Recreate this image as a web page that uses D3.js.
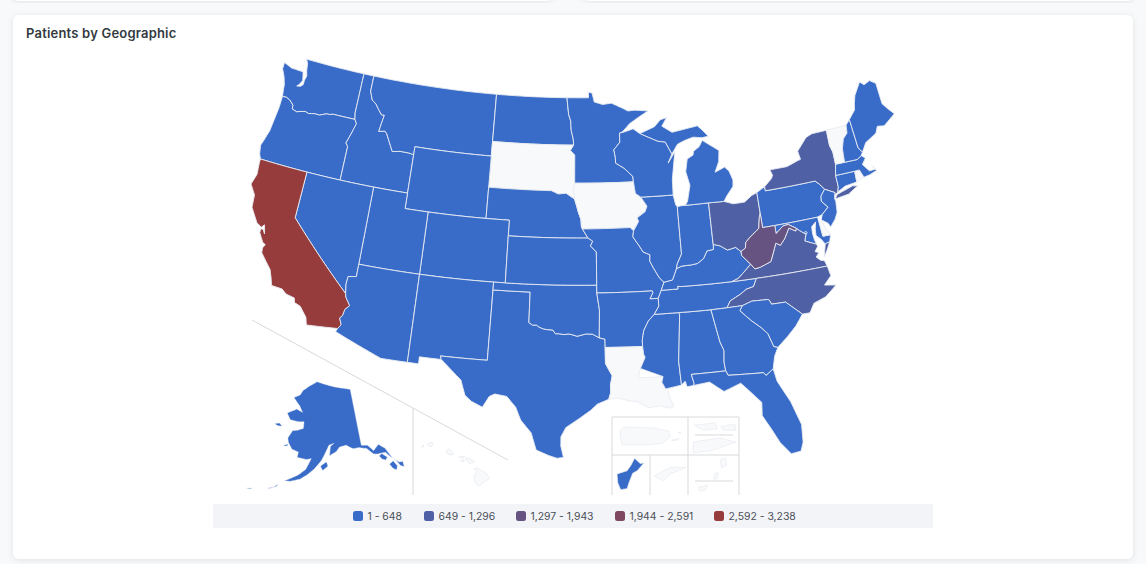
<!DOCTYPE html>
<html>
<head>
<meta charset="utf-8">
<title>Patients by Geographic</title>
<script src="https://cdn.jsdelivr.net/npm/d3@7"></script>
<style>
  html, body { margin: 0; padding: 0; background: #f8f9fb; }
  svg { display: block; }
  text { font-family: Inter, "Noto Sans", sans-serif; }
</style>
</head>
<body>
<svg id="chart" width="1146" height="564"></svg>
<script>
'use strict';

// legend bins
var binLabels = ['1 - 648', '649 - 1,296', '1,297 - 1,943', '1,944 - 2,591', '2,592 - 3,238'];
var binLimits = [649, 1297, 1944, 2592];
var binColors = ['#396cc8', '#4f60a5', '#665382', '#7f4760', '#963c3c'];
var noDataColor = '#f8f9fb';

// patient counts, read from the bin colour of each state (null = no data)
var stateNames = ['WA', 'OR', 'ID', 'MT', 'ND', 'SD', 'WY', 'NE', 'CO', 'UT', 'NV', 'CA', 'AZ', 'NM', 'TX', 'OK', 'KS', 'MN',
  'IA', 'MO', 'AR', 'LA', 'MS', 'AL', 'TN', 'KY', 'IL', 'IN', 'OH', 'MI', 'WI', 'PA', 'NY', 'NJ', 'CT', 'RI', 'MA', 'VT',
  'NH', 'ME', 'MD', 'DC', 'DE', 'VA', 'WV', 'NC', 'SC', 'GA', 'FL', 'AK', 'HI', 'PR', 'VI', 'GU', 'AS', 'MP'];
var stateValues = [420, 180, 90, 60, 40, null, 30, 110, 240, 130, 150, 3238, 380, 100, 620, 160, 120, 210,
  null, 280, 90, null, 70, 130, 300, 240, 350, 290, 1120, 410, 190, 600, 1250, 330, 120, null, 260, null,
  50, 45, 220, 30, null, 980, 1520, 1060, 210, 470, 640, 12, null, null, null, 3, null, null];

// shared borders, lon/lat
var idMt = [[-116.05, 49], [-116.05, 48], [-115.72, 47.45], [-115.3, 47.25], [-114.95, 46.93], [-114.6, 46.64], [-114.33, 46.65], [-114.45, 46.1], [-114.55, 45.56], [-114.0, 45.65], [-113.8, 45.52], [-113.45, 45.05], [-113.0, 44.45], [-112.3, 44.55], [-111.5, 44.54], [-111.05, 44.48]];
var snake = [[-117.04, 46.42], [-116.92, 46], [-116.7, 45.75], [-116.95, 45.1], [-117.25, 44.4], [-117.03, 44.2], [-117.03, 42]];
var columbia = [[-116.92, 46], [-118.98, 46], [-119.3, 45.93], [-119.6, 45.92], [-120.2, 45.73], [-120.65, 45.74], [-121.2, 45.65], [-121.55, 45.72], [-122, 45.63], [-122.3, 45.55], [-122.76, 45.65], [-122.8, 45.9], [-123.2, 46.15], [-123.55, 46.26], [-123.95, 46.25]];
var redNorth = [[-97.23, 49], [-97.15, 48.5], [-97.05, 47.9], [-96.85, 47.5], [-96.8, 46.9], [-96.6, 46.33], [-96.56, 45.94]];
var mnSd = [[-96.56, 45.94], [-96.85, 45.6], [-96.45, 45.3], [-96.45, 43.5]];
var sdIa = [[-96.45, 43.5], [-96.55, 43.1], [-96.45, 42.49]];
var moSdNe = [[-98.5, 43], [-97.9, 42.8], [-97.2, 42.85], [-96.7, 42.6], [-96.45, 42.49]];
var moNeIa = [[-96.45, 42.49], [-96.25, 42], [-96.1, 41.6], [-95.9, 41.2], [-95.85, 40.7], [-95.77, 40.58]];
var moNeMo = [[-95.77, 40.58], [-95.3, 40]];
var moKsMo = [[-95.3, 40], [-94.9, 39.8], [-95.1, 39.5], [-94.61, 39.11]];
var coAzNv = [[-114.05, 36.2], [-114.7, 36.1], [-114.75, 35.6], [-114.63, 35]];
var coAzCa = [[-114.63, 35], [-114.57, 34.8], [-114.14, 34.3], [-114.45, 34], [-114.53, 33.6], [-114.72, 33.4], [-114.5, 33], [-114.72, 32.72]];
var redSouth = [[-100, 34.56], [-99.7, 34.4], [-99.4, 34.42], [-99.2, 34.3], [-98.9, 34.2], [-98.6, 34.15], [-98.1, 34.13], [-97.9, 33.9], [-97.6, 33.9], [-97.2, 33.85], [-96.9, 33.9], [-96.6, 33.85], [-96.2, 33.75], [-95.5, 33.9], [-95, 33.88], [-94.48, 33.64]];
var txLa = [[-94.04, 33.02], [-94.04, 32], [-93.8, 31.6], [-93.55, 31.2], [-93.7, 30.6], [-93.7, 30.1], [-93.85, 29.7]];
var stCroix = [[-92.29, 46.66], [-92.29, 46.08], [-92.87, 45.6], [-92.75, 45.1], [-92.75, 44.75]];
var missMnWi = [[-92.75, 44.75], [-92, 44.4], [-91.25, 43.85], [-91.22, 43.5]];
var missIaWi = [[-91.22, 43.5], [-91.1, 42.75], [-90.64, 42.5]];
var missIaIl = [[-90.64, 42.5], [-90.15, 41.9], [-90.35, 41.55], [-91.05, 41.2], [-90.95, 40.95], [-91.42, 40.38]];
var missMoIl = [[-91.42, 40.38], [-91.5, 40], [-91, 39.4], [-90.7, 39], [-90.15, 38.8], [-90.2, 38.4], [-89.9, 37.9], [-89.5, 37.3], [-89.15, 37]];
var missMoKy = [[-89.15, 37], [-89.42, 36.5]];
var missMoTn = [[-89.42, 36.5], [-89.7, 36]];
var bootheel = [[-89.7, 36], [-90.37, 36], [-90.1, 36.4], [-90.15, 36.5]];
var missArTn = [[-89.7, 36], [-89.7, 35.5], [-90.1, 35]];
var missArMs = [[-90.1, 35], [-90.6, 34.6], [-91, 34], [-91.15, 33.4], [-91.15, 33]];
var missLaMs = [[-91.15, 33], [-91.1, 32.5], [-91, 32.3], [-91.4, 31.6], [-91.6, 31]];
var laMs = [[-91.6, 31], [-89.73, 31], [-89.85, 30.65], [-89.6, 30.2]];
var ohioIl = [[-89.15, 37], [-88.45, 37.1], [-88.05, 37.8]];
var ohioIn = [[-88.05, 37.8], [-87.6, 37.93], [-86.8, 37.95], [-86.3, 38], [-85.75, 38.27], [-85.4, 38.73], [-84.85, 38.78], [-84.82, 39.1]];
var ohioOh = [[-84.82, 39.1], [-84.25, 38.95], [-83.7, 38.63], [-83, 38.73], [-82.6, 38.42]];
var ohioWv = [[-82.6, 38.42], [-82.2, 38.6], [-82.1, 38.95], [-81.75, 39.2], [-81.4, 39.4], [-80.85, 39.7], [-80.65, 40.4], [-80.52, 40.64]];
var wabash = [[-88.05, 37.8], [-87.95, 38.1], [-87.53, 38.7], [-87.53, 39.35], [-87.53, 41.72]];
var tnKy = [[-89.42, 36.5], [-88.07, 36.5], [-88.07, 36.68], [-87.85, 36.64], [-83.68, 36.6]];
var kyVa = [[-83.68, 36.6], [-83.13, 36.75], [-82.3, 37.3], [-81.97, 37.54]];
var kyWv = [[-81.97, 37.54], [-82.6, 38.17], [-82.6, 38.42]];
var tnNc = [[-81.68, 36.59], [-82, 36.1], [-82.6, 36], [-83.1, 35.75], [-84, 35.4], [-84.32, 34.99]];
var vaWv = [[-81.97, 37.54], [-81.68, 37.2], [-81.23, 37.25], [-80.3, 37.5], [-80, 38], [-79.65, 38.6], [-79.3, 38.42], [-78.87, 38.77], [-78.35, 39.4], [-77.83, 39.13], [-77.75, 39.3]];
var mdWv = [[-77.75, 39.3], [-78.35, 39.63], [-78.8, 39.6], [-79.48, 39.2], [-79.48, 39.72]];
var mdVa = [[-77.75, 39.3], [-77.5, 39.1], [-77.05, 38.8], [-77.25, 38.4], [-77, 38.3], [-76.35, 38.05]];
var paNy = [[-75.35, 42], [-75.05, 41.75], [-74.7, 41.36]];
var paNj = [[-74.7, 41.36], [-75.13, 40.98], [-75.2, 40.65], [-74.75, 40.2], [-75.4, 39.8]];
var ncSc = [[-83.1, 35], [-82.3, 35.2], [-81.04, 35.15], [-80.93, 35.1], [-80.8, 34.82], [-79.68, 34.8], [-78.55, 33.86]];
var gaSc = [[-83.1, 35], [-83.35, 34.7], [-82.6, 34], [-81.9, 33.45], [-81.45, 33], [-81.15, 32.12], [-80.85, 32.03]];
var gaFl = [[-81.45, 30.72], [-82.05, 30.37], [-82.2, 30.57], [-84.86, 30.7], [-85, 31]];
var alGa = [[-85, 31], [-85.05, 31.55], [-84.95, 32.3], [-85.18, 32.87], [-85.6, 34.98]];
var alMs = [[-88.4, 30.37], [-88.47, 31.9], [-88.1, 34.9], [-88.2, 35]];
var vtNh = [[-71.5, 45.01], [-71.6, 44.5], [-72.05, 44.2], [-72.35, 43.6], [-72.46, 42.73]];
var nyVt = [[-73.35, 45], [-73.4, 44], [-73.25, 43.55], [-73.27, 42.75]];
var nyCt = [[-73.5, 42.05], [-73.5, 41.3], [-73.65, 41]];
var nhMe = [[-71.08, 45.3], [-70.98, 43.4], [-70.7, 43.07]];
var mnWiLake = [[-89.5, 48], [-90.5, 47.6], [-91.3, 47.25], [-92, 46.75], [-92.29, 46.66]];

function rev(a) { return a.slice().reverse(); }
function chain() { return [].concat.apply([], Array.prototype.slice.call(arguments)); }

var stateShapes = {
  WA: [chain([[-124.7, 48.38], [-123.9, 48.17], [-123.1, 48.15], [-122.75, 48.15], [-122.65, 47.9], [-122.55, 47.6], [-122.75, 47.3], [-122.95, 47.15], [-122.6, 47.2], [-122.4, 47.35], [-122.4, 47.65], [-122.3, 47.95], [-122.45, 48.3], [-122.55, 48.75], [-122.76, 49], [-117.03, 49]], snake.slice(0, 2), columbia.slice(1), [[-124.05, 46.7], [-124.1, 47], [-124.35, 47.5], [-124.7, 47.95]])],
  OR: [chain(columbia, [[-123.95, 45.5], [-124.05, 44.7], [-124.15, 43.9], [-124.4, 43.2], [-124.55, 42.84], [-124.4, 42.3], [-124.21, 42], [-117.03, 42]], rev(snake).slice(1, -2))],
  ID: [chain([[-117.03, 49]], idMt, [[-111.05, 42]], rev(snake))],
  MT: [chain(idMt.slice(0, 1), [[-104.05, 49], [-104.05, 45], [-111.05, 45]], rev(idMt).slice(0, -1))],
  ND: [chain([[-104.05, 49]], redNorth, [[-104.05, 45.94]])],
  SD: [chain([[-104.05, 45.94]], mnSd, sdIa.slice(1), rev(moSdNe).slice(1), [[-104.05, 43]])],
  WY: [[[-111.05, 45], [-104.05, 45], [-104.05, 41], [-111.05, 41]]],
  NE: [chain([[-104.05, 43]], moSdNe, moNeIa.slice(1), moNeMo.slice(1), [[-102.05, 40], [-102.05, 41], [-104.05, 41]])],
  CO: [[[-109.05, 41], [-102.05, 41], [-102.05, 37], [-109.05, 37]]],
  UT: [[[-114.05, 42], [-111.05, 42], [-111.05, 41], [-109.05, 41], [-109.05, 37], [-114.05, 37]]],
  NV: [chain([[-120, 42], [-114.05, 42], [-114.05, 37]], coAzNv, [[-120, 39]])],
  CA: [chain([[-124.21, 42], [-120, 42], [-120, 39]], coAzCa, [[-117.12, 32.53], [-117.28, 33], [-117.9, 33.6], [-118.4, 33.75], [-118.5, 34.03], [-119.2, 34.15], [-119.6, 34.4], [-120.47, 34.45], [-120.65, 34.9], [-120.9, 35.4], [-121.9, 36.3], [-121.95, 36.6], [-121.8, 36.85], [-122.05, 36.95], [-122.5, 37.5], [-122.5, 37.75], [-122.3, 37.75], [-122.1, 37.5], [-122.2, 37.8], [-122.3, 38.05], [-122.5, 37.85], [-122.95, 38.05], [-123.7, 38.9], [-123.8, 39.7], [-124.35, 40.3], [-124.1, 41], [-124.2, 41.75]])],
  AZ: [chain(rev(coAzCa), rev(coAzNv).slice(1), [[-114.05, 37], [-109.05, 37], [-109.05, 31.33], [-111.07, 31.33], [-114.82, 32.5]])],
  NM: [[[-109.05, 37], [-103, 37], [-103.04, 32], [-106.62, 32], [-106.53, 31.78], [-108.2, 31.78], [-108.2, 31.33], [-109.05, 31.33]]],
  TX: [chain([[-103, 36.5], [-100, 36.5]], redSouth, [[-94.04, 33.55]], txLa, [[-94.7, 29.4], [-95.2, 29], [-96, 28.5], [-97, 27.9], [-97.35, 27.3], [-97.35, 26.7], [-97.15, 25.96], [-97.6, 25.9], [-98.2, 26.07], [-99.1, 26.4], [-99.5, 27.5], [-100.3, 28.3], [-100.7, 29.1], [-101.4, 29.77], [-102.3, 29.88], [-102.7, 29.7], [-103.15, 28.98], [-104, 29.3], [-104.5, 29.65], [-104.9, 30.6], [-106, 31.4], [-106.53, 31.78], [-106.62, 32], [-103.04, 32]])],
  OK: [chain([[-103, 37], [-94.62, 37], [-94.62, 36.5], [-94.43, 35.4]], rev(redSouth), [[-100, 36.5], [-103, 36.5]])],
  KS: [chain([[-102.05, 40]], moKsMo, [[-94.62, 37], [-102.05, 37]])],
  MN: [chain(redNorth.slice(0, 1), [[-95.15, 49], [-95.15, 49.38], [-94.8, 49.3], [-94.6, 48.72], [-93.8, 48.55], [-92.95, 48.62], [-92, 48.3], [-91.4, 48.07], [-90.75, 48.1]], mnWiLake, stCroix.slice(1), missMnWi.slice(1), [[-96.45, 43.5]], rev(mnSd).slice(1), rev(redNorth).slice(1, -1))],
  IA: [chain([[-96.45, 43.5]], missIaWi, missIaIl.slice(1), [[-91.7, 40.6], [-95.77, 40.58]], rev(moNeIa).slice(1), rev(sdIa).slice(1, -1))],
  MO: [chain([[-95.77, 40.58], [-91.7, 40.6]], missMoIl, missMoKy.slice(1), missMoTn.slice(1), bootheel.slice(1), [[-94.62, 36.5], [-94.62, 37]], rev(moKsMo))],
  AR: [chain([[-94.62, 36.5]], rev(bootheel), missArTn.slice(1), missArMs.slice(1), [[-94.04, 33.02], [-94.04, 33.55], [-94.48, 33.64], [-94.43, 35.4]])],
  LA: [chain(missLaMs, laMs.slice(1), [[-89.4, 30.05], [-89.4, 29.8], [-89.1, 29.05], [-89.4, 28.95], [-90.1, 29.15], [-90.9, 29.05], [-91.8, 29.5], [-92.3, 29.55], [-93.2, 29.78]], rev(txLa))],
  MS: [chain(rev(missArMs), [[-88.2, 35]], rev(alMs).slice(1), rev(laMs).slice(0, -1), rev(missLaMs).slice(1, -1))],
  AL: [chain([[-88.2, 35]], rev(alGa), [[-87.6, 31], [-87.45, 30.4], [-87.5, 30.28], [-88, 30.23], [-88.1, 30.6]], alMs.slice(0, -1))],
  TN: [chain(tnKy, [[-81.68, 36.59]], tnNc.slice(1), [[-85.6, 34.98], [-88.2, 35], [-90.1, 35]], rev(missArTn).slice(1), rev(missMoTn).slice(1, -1))],
  KY: [chain(tnKy, kyVa.slice(1), kyWv.slice(1), rev(ohioOh).slice(1), rev(ohioIn).slice(1), rev(ohioIl).slice(1))],
  IL: [chain([[-87.8, 42.49], [-90.64, 42.5]], missIaIl.slice(1), missMoIl.slice(1), ohioIl.slice(1), wabash.slice(1), [[-87.65, 41.85]])],
  IN: [chain([[-87.53, 41.72], [-87.2, 41.76], [-86.82, 41.76], [-84.8, 41.76], [-84.82, 39.1]], rev(ohioIn).slice(1), wabash.slice(1, -1))],
  OH: [chain([[-84.8, 41.76], [-83.45, 41.73], [-82.7, 41.5], [-81.7, 41.5], [-81, 41.85], [-80.52, 41.98], [-80.52, 40.64]], rev(ohioWv).slice(1), rev(ohioOh).slice(1))],
  MI: [
    [[-86.82, 41.76], [-84.8, 41.76], [-83.45, 41.73], [-83.15, 42.05], [-82.5, 42.6], [-82.42, 43], [-82.65, 43.6], [-83, 43.9], [-83.9, 43.65], [-83.45, 44.3], [-83.3, 45], [-84.7, 45.78], [-85.05, 45.4], [-85.6, 45.15], [-85.7, 44.9], [-86.25, 44.7], [-86.5, 43.9], [-86.25, 43], [-86.6, 42]],
    [[-90.4, 46.57], [-89, 46.95], [-88.4, 47.37], [-87.8, 47.47], [-88.3, 46.95], [-87.4, 46.5], [-86, 46.65], [-85, 46.75], [-84.6, 46.45], [-84.1, 46], [-84.7, 45.95], [-85.5, 46.05], [-86.3, 45.9], [-87, 45.7], [-87.6, 45.1], [-88.1, 45.9], [-88.8, 46]]
  ],
  WI: [chain([[-92.29, 46.66], [-92, 46.7], [-91, 46.9], [-90.4, 46.57], [-88.8, 46], [-88.1, 45.9], [-87.6, 45.1], [-88, 44.55], [-87.3, 45.25], [-87.5, 44.5], [-87.75, 43.5], [-87.8, 42.49], [-90.64, 42.5]], rev(missIaWi).slice(1), rev(missMnWi).slice(1), rev(stCroix).slice(1, -1))],
  PA: [chain([[-80.52, 41.98], [-79.76, 42.27], [-79.76, 42]], paNy, paNj.slice(1), [[-75.79, 39.72], [-79.48, 39.72], [-80.52, 39.72], [-80.52, 40.64]])],
  NY: [
    chain([[-79.76, 42.27], [-79.05, 42.7], [-78.9, 42.9], [-79.05, 43.27], [-77.5, 43.27], [-76.5, 43.5], [-76.2, 43.55], [-76.3, 44.1], [-75.3, 44.85], [-74.7, 45]], nyVt, nyCt, [[-73.9, 40.85], [-73.9, 41]], rev(paNy), [[-79.76, 42]]),
    [[-74, 40.6], [-73.75, 40.85], [-72.3, 41.15], [-71.87, 41.07], [-72.8, 40.7]]
  ],
  NJ: [chain(paNj, [[-75.55, 39.5], [-75.05, 39.2], [-74.9, 38.93], [-74.4, 39.35], [-74.1, 39.75], [-74, 40.45], [-74.05, 40.65], [-73.9, 41]])],
  CT: [chain(nyCt, [[-72.9, 41.25], [-71.85, 41.32], [-71.8, 42.02]])],
  RI: [[[-71.8, 42.02], [-71.38, 42.02], [-71.15, 41.5], [-71.4, 41.45], [-71.85, 41.32]]],
  MA: [[[-73.27, 42.75], [-72.46, 42.73], [-71.3, 42.7], [-70.9, 42.88], [-70.6, 42.65], [-71, 42.3], [-70.55, 41.8], [-70, 41.8], [-70.2, 42.07], [-69.95, 41.7], [-70.6, 41.55], [-71.15, 41.5], [-71.38, 42.02], [-71.8, 42.02], [-73.5, 42.05]]],
  VT: [chain([[-73.35, 45]], vtNh, rev(nyVt).slice(0, -1))],
  NH: [chain(vtNh.slice(0, 1), nhMe, [[-70.9, 42.88], [-71.3, 42.7]], rev(vtNh).slice(0, -1))],
  ME: [chain(rev(nhMe), [[-70.4, 45.8], [-70.25, 46.2], [-70, 46.7], [-69.23, 47.46], [-68.9, 47.2], [-68.3, 47.36], [-67.8, 47.07], [-67.8, 45.7], [-67.45, 45.3], [-67, 44.85], [-68.2, 44.3], [-68.8, 44.4], [-69.1, 44], [-70.2, 43.6]])],
  MD: [chain([[-79.48, 39.72], [-75.79, 39.72], [-75.7, 38.46], [-75.05, 38.45], [-75.25, 38.03], [-75.65, 37.95], [-75.9, 38.3], [-76.25, 38.6], [-76.2, 39], [-76.05, 39.45], [-76.45, 39.2], [-76.5, 38.8], [-76.45, 38.35]], rev(mdVa), mdWv.slice(1, -1))],
  DC: [[[-77.12, 38.93], [-77.04, 39], [-76.91, 38.89], [-77.04, 38.79]]],
  DE: [[[-75.79, 39.72], [-75.4, 39.8], [-75.55, 39.5], [-75.4, 39.05], [-75.05, 38.45], [-75.7, 38.46]]],
  VA: [
    chain(kyVa, vaWv.slice(1), mdVa.slice(1), [[-76.3, 37.9], [-76.6, 37.6], [-76.3, 37.5], [-76.6, 37.25], [-76.3, 37], [-76, 36.92], [-75.87, 36.55], [-81.68, 36.59]]),
    [[-75.25, 38.03], [-75.65, 37.95], [-75.95, 37.15], [-75.6, 37.55]]
  ],
  WV: [chain([[-80.52, 40.64], [-80.52, 39.72]], rev(mdWv), rev(vaWv).slice(1), kyWv.slice(1), ohioWv.slice(1, -1))],
  NC: [chain(rev(tnNc), [[-75.87, 36.55], [-75.75, 35.9], [-76.4, 35.4], [-75.5, 35.25], [-76.5, 34.65], [-77.5, 34.4], [-77.95, 33.85]], rev(ncSc))],
  SC: [chain(ncSc, [[-79.2, 33.2], [-80, 32.6]], rev(gaSc).slice(0, -1))],
  GA: [chain([[-85.6, 34.98], [-84.32, 34.99]], gaSc, [[-81.2, 31.5]], gaFl, alGa.slice(1, -1))],
  FL: [chain([[-87.6, 31]], rev(gaFl), [[-81.3, 29.9], [-80.55, 28.45], [-80.05, 26.9], [-80.15, 25.75], [-80.4, 25.2], [-81.1, 25.13], [-81.75, 25.95], [-82.2, 26.85], [-82.75, 27.85], [-82.65, 28.7], [-83.4, 29.5], [-84, 30.1], [-85.3, 29.7], [-86.3, 30.4], [-87.5, 30.28], [-87.45, 30.4]])]
};

var alaskaShape = [
  [[-141, 69.65], [-141, 60.3], [-139, 60.1], [-137.5, 59], [-135.5, 59.8], [-133.8, 58.9], [-132.5, 57], [-131, 56], [-130, 55.9], [-130.1, 55], [-131, 55.4], [-131.8, 56.6], [-133, 57.3], [-134, 58.2], [-135.3, 58.3], [-136.5, 58.3], [-137.8, 58.5], [-139.5, 59.6], [-142, 60], [-144, 60], [-146, 60.7], [-148.3, 60.5], [-149.5, 59.8], [-151.7, 59.2], [-151.3, 60.7], [-150, 61.2], [-151.8, 60.9], [-153.2, 59.5], [-154.2, 58.5], [-156.5, 57], [-158.5, 56], [-160.5, 55.2], [-163, 54.7], [-164.8, 54.6], [-163, 55.2], [-161, 55.9], [-159, 56.9], [-157.5, 58.7], [-159, 58.5], [-162, 58.7], [-161.8, 59.6], [-164, 59.9], [-165.5, 60.9], [-166, 61.6], [-164.8, 62.9], [-163, 63.1], [-161, 63.5], [-161, 64.6], [-163, 64.5], [-166.3, 64.6], [-168, 65.6], [-164.5, 66.5], [-162, 66.1], [-163.5, 67.1], [-166.5, 68.3], [-164, 68.9], [-163, 69.7], [-160, 70.6], [-156.6, 71.35], [-152, 70.85], [-148, 70.4], [-144, 70]],
  [[-154.6, 57.5], [-153.9, 56.8], [-152.3, 57.5], [-152.7, 58.2], [-153.6, 57.9]],
  [[-171.7, 63.4], [-170, 63.7], [-168.8, 63.3], [-170.4, 63.2]],
  [[-167, 60.2], [-165.7, 60.3], [-165.5, 60.6], [-166.5, 60.4]],
  [[-134.8, 57.9], [-133.9, 57.4], [-134.6, 57], [-135.6, 57.3], [-136.2, 57.9], [-135.3, 58.2]],
  [[-133.9, 56.2], [-132.6, 56.5], [-131.9, 55.5], [-132.5, 54.9], [-133.4, 55.4]],
  [[-168.9, 52.9], [-167.4, 53.3], [-166.3, 53.9], [-166.7, 53.5], [-168.2, 53]],
  [[-174.5, 52], [-172.9, 52.3], [-173.5, 52.05]]
];
var hawaiiShape = [
  [[-159.8, 22.05], [-159.4, 22.23], [-159.3, 22.05], [-159.45, 21.88], [-159.7, 21.95]],
  [[-160.25, 21.8], [-160.1, 22.0], [-160.05, 21.9]],
  [[-158.27, 21.57], [-158, 21.7], [-157.7, 21.4], [-157.75, 21.27], [-158.1, 21.3]],
  [[-157.3, 21.1], [-156.75, 21.17], [-156.85, 21.05], [-157.25, 21.08]],
  [[-156.7, 21.02], [-156.6, 21.03], [-156.25, 20.93], [-156.0, 20.75], [-156.4, 20.6], [-156.5, 20.8], [-156.68, 20.87]],
  [[-157.05, 20.9], [-156.85, 20.9], [-156.85, 20.75], [-157.05, 20.75]],
  [[-156.05, 20.25], [-155.75, 20.25], [-155.1, 19.9], [-154.8, 19.5], [-155.65, 18.92], [-155.92, 19.1], [-156.05, 19.7], [-155.85, 20]]
];
var puertoRicoShape = [
  [[-67.25, 18.37], [-67.15, 18.5], [-66.6, 18.49], [-66.1, 18.47], [-65.65, 18.38], [-65.6, 18.2], [-65.85, 18.0], [-66.3, 17.95], [-66.8, 17.95], [-67.2, 17.95]],
  [[-65.55, 18.1], [-65.3, 18.15], [-65.4, 18.09], [-65.55, 18.08]],
  [[-65.35, 18.33], [-65.25, 18.35], [-65.27, 18.3]]
];
var virginNorthShape = [
  [[-65.03, 18.35], [-64.85, 18.37], [-64.83, 18.32], [-64.95, 18.31]],
  [[-64.8, 18.34], [-64.68, 18.36], [-64.67, 18.31], [-64.78, 18.31]]
];
var virginSouthShape = [[[-64.9, 17.68], [-64.9, 17.76], [-64.7, 17.79], [-64.57, 17.76], [-64.75, 17.7]]];
var guamShape = [[[144.853, 13.63], [144.923, 13.566], [144.97, 13.574], [144.886, 13.48], [144.83, 13.45], [144.783, 13.334], [144.76, 13.263], [144.68, 13.25], [144.643, 13.334], [144.634, 13.44], [144.76, 13.48], [144.807, 13.545]]];
var samoaShape = [
  [[-170.85, -14.33], [-170.76, -14.28], [-170.7, -14.25], [-170.55, -14.25], [-170.62, -14.28], [-170.7, -14.31], [-170.76, -14.37]]
];
var marianaNorthShape = [
  [[145.7, 15.25], [145.8, 15.28], [145.82, 15.15], [145.72, 15.1]],
  [[145.6, 15.0], [145.66, 15.02], [145.64, 14.9], [145.57, 14.9]]
];
var marianaSouthShape = [[[145.1, 14.15], [145.25, 14.18], [145.2, 14.1], [145.12, 14.1]]];

var albers = d3.geoAlbers().scale(892).translate([572.5, 258.5]);

function densify(ring) {
  var out = [];
  ring.forEach(function (p, i) {
    var q = ring[(i + 1) % ring.length];
    var span = Math.max(Math.abs(q[0] - p[0]), Math.abs(q[1] - p[1]));
    var steps = Math.max(1, Math.ceil(span / 0.5));
    for (var s = 0; s < steps; s++) {
      out.push([p[0] + (q[0] - p[0]) * s / steps, p[1] + (q[1] - p[1]) * s / steps]);
    }
  });
  return out;
}

function toFeature(code, rings) {
  var polys = rings.map(function (ring) {
    var r = densify(ring);
    r.push(r[0]);
    if (d3.geoArea({type: 'Polygon', coordinates: [r]}) > 2 * Math.PI) {
      r.reverse();
    }
    return [r];
  });
  return {type: 'Feature', id: code, geometry: {type: 'MultiPolygon', coordinates: polys}};
}

var valueByCode = {};
stateNames.forEach(function (s, i) {
  valueByCode[s] = stateValues[i];
});

var binScale = d3.scaleThreshold().domain(binLimits).range(binColors);

function fillOf(code) {
  var v = valueByCode[code];
  return v === null ? noDataColor : binScale(v);
}

var svg = d3.select('#chart');

var defs = svg.append('defs');
defs.append('filter').attr('id', 'cardShadow').attr('x', '-5%').attr('y', '-5%').attr('width', '110%').attr('height', '110%')
  .append('feDropShadow').attr('dx', 0).attr('dy', 1).attr('stdDeviation', 3)
  .attr('flood-color', '#000').attr('flood-opacity', 0.09);

// cards
[[13, -30, 540, 31], [583, -30, 550, 31], [13, 15, 1120, 544]].forEach(function (c) {
  svg.append('rect').attr('x', c[0]).attr('y', c[1]).attr('width', c[2]).attr('height', c[3])
    .attr('rx', 6).attr('fill', '#fff').attr('filter', 'url(#cardShadow)');
});

svg.append('text').attr('x', 26).attr('y', 38)
  .attr('font-size', 13).attr('font-weight', 600).attr('fill', '#333a40')
  .attr('letter-spacing', 0.2)
  .text('Patients by Geographic');

var gMap = svg.append('g');
var path = d3.geoPath(albers);

var lower48 = Object.keys(stateShapes).map(function (c) { return toFeature(c, stateShapes[c]); });

gMap.selectAll('path.state').data(lower48).enter().append('path')
  .attr('class', 'state')
  .attr('d', path)
  .attr('fill', function (d) { return fillOf(d.id); })
  .attr('stroke', '#e8ebf2')
  .attr('stroke-width', 0.9)
  .attr('stroke-linejoin', 'round');

// Alaska and Hawaii
var akProjection = d3.geoConicEqualArea().rotate([154, 0]).center([-2, 58.5]).parallels([55, 65])
  .scale(350).translate([316, 460]);
gMap.append('path').datum(toFeature('AK', alaskaShape))
  .attr('d', d3.geoPath(akProjection))
  .attr('fill', fillOf('AK')).attr('stroke', '#e8ebf2').attr('stroke-width', 0.4);

var hiFeature = toFeature('HI', hawaiiShape);
gMap.append('path').datum(hiFeature)
  .attr('d', d3.geoPath(d3.geoConicEqualArea().rotate([157, 0]).parallels([8, 18]).fitExtent([[421, 442], [490, 486]], hiFeature)))
  .attr('fill', fillOf('HI')).attr('stroke', '#e9ebf0').attr('stroke-width', 0.8);

// territories
var insets = [
  {code: 'PR', shape: puertoRicoShape, box: [[620, 426], [681, 446]]},
  {code: 'VI', shape: virginNorthShape, box: [[694, 421], [736, 432]]},
  {code: 'VI', shape: virginSouthShape, box: [[693, 438], [736, 453]]},
  {code: 'GU', shape: guamShape, box: [[617, 458], [644, 490]]},
  {code: 'AS', shape: samoaShape, box: [[654, 466], [686, 482]]},
  {code: 'MP', shape: marianaNorthShape, box: [[712, 458], [728, 479]]},
  {code: 'MP', shape: marianaSouthShape, box: [[698, 485], [708, 491]]}
];

insets.forEach(function (inset) {
  var f = toFeature(inset.code, inset.shape);
  gMap.append('path').datum(f)
    .attr('d', d3.geoPath(d3.geoMercator().fitExtent(inset.box, f)))
    .attr('fill', fillOf(inset.code))
    .attr('stroke', '#e9ebf0').attr('stroke-width', 0.7);
});

// separators
var sep = d3.line();
var separators = [
  [[252, 320], [508, 460]],
  [[413, 408], [413, 495]],
  [[612, 417], [739, 417], [739, 495]],
  [[612, 417], [612, 495]],
  [[612, 455], [739, 455]],
  [[688, 417], [688, 495]],
  [[650, 455], [650, 495]],
  [[695, 435], [733, 435]],
  [[695, 481], [733, 481]]
];
svg.selectAll('path.sep').data(separators).enter().append('path')
  .attr('class', 'sep')
  .attr('d', sep)
  .attr('fill', 'none')
  .attr('stroke', '#d9d9d9')
  .attr('stroke-width', 1);

// legend
svg.append('rect').attr('x', 213).attr('y', 504).attr('width', 720).attr('height', 24).attr('fill', '#f3f4f8');
var legendX = [353, 424, 516, 615, 714];
var legend = svg.selectAll('g.legend').data(binLabels).enter().append('g')
  .attr('class', 'legend')
  .attr('transform', function (d, i) { return 'translate(' + legendX[i] + ',511)'; });
legend.append('rect')
  .attr('width', 10).attr('height', 10).attr('rx', 2.5)
  .attr('fill', function (d, i) { return binColors[i]; });
legend.append('text')
  .attr('x', 14.5).attr('y', 9)
  .attr('font-size', 10.4).attr('fill', '#4a4f57')
  .text(function (d) { return d; });
</script>
</body>
</html>
